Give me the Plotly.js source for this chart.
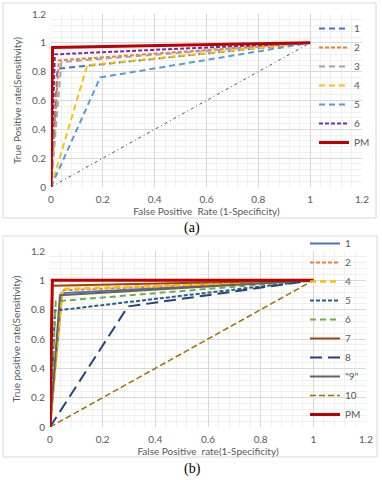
<!DOCTYPE html>
<html>
<head>
<meta charset="utf-8">
<script src="https://cdn.plot.ly/plotly-3.0.1.min.js"></script>
<style>
  html, body { margin: 0; padding: 0; background: #fff; }
  #chart { width: 382px; height: 480px; }
</style>
</head>
<body>
<div id="chart"></div>
<script>
(function(){
    // panel (a)
    const namesA = ['1','2','3','4','5','6','PM'];
    const fprA = [[0,0.025,1],[0,0.03,1],[0,0.04,1],[0,0.14,1],[0,0.19,1],[0,0.015,1],[0,0.006,1]];
    const tprA = [[0,0.82,1],[0,0.878,1],[0,0.867,1],[0,0.845,1],[0,0.76,1],[0,0.92,1],[0,0.968,1]];
    const chanceA = [0, 1];
    const colorsA = ['#4472C4','#ED7D31','#A5A5A5','#FFC000','#5B9BD5','#7030A0','#C00000'];
    const dashesA = ['6px,4px','4px,2px','6px,4px','6px,4px','6px,4px','4px,2px','solid'];
    const widthsA = [2,2,2,2,2,2,3];

    // panel (b)
    const namesB = ['1','2','4','5','6','7','8','"9"','10','PM'];
    const fprB = [[0,0.045,1],[0,0.045,1],[0,0.048,1],[0,0.019,1],[0,0.022,1],[0,0.008,1],[0,0.296,1],[0,0.038,1],[0,1],[0,0.009,1]];
    const tprB = [[0,0.913,1],[0,0.932,1],[0,0.94,1],[0,0.793,1],[0,0.857,1],[0,0.963,1],[0,0.822,1],[0,0.898,1],[0,1],[0,1,1]];
    const colorsB = ['#4472C4','#ED7D31','#FFC000','#255E91','#70AD47','#9E480E','#264478','#636363','#997300','#C00000'];
    const dashesB = ['solid','4px,2px','6px,4px','4px,2px','6px,4px','solid','12px,6px','solid','6px,3px','solid'];
    const widthsB = [2,2,2.5,2,2,2,2,2,1.5,3];

    const traces = [];
    traces.push({
        x: chanceA, y: chanceA, xaxis: 'x', yaxis: 'y', mode: 'lines',
        line: {color: '#44546A', width: 1, dash: '3px,3px,1px,3px'},
        showlegend: false, hoverinfo: 'skip'
    });
    namesA.forEach((n, i) => {
        traces.push({
            x: fprA[i], y: tprA[i], xaxis: 'x', yaxis: 'y', mode: 'lines', name: n,
            legend: 'legend', legendgroup: 'a' + i,
            line: {color: colorsA[i], width: widthsA[i], dash: dashesA[i]}
        });
    });
    namesB.forEach((n, i) => {
        traces.push({
            x: fprB[i], y: tprB[i], xaxis: 'x2', yaxis: 'y2', mode: 'lines', name: n,
            legend: 'legend2', legendgroup: 'b' + i,
            line: {color: colorsB[i], width: widthsB[i], dash: dashesB[i]}
        });
    });

    const W = 382, H = 480;
    const px = v => v / W, py = v => 1 - v / H;
    const font = {family: 'Lato, sans-serif', size: 10, color: '#595959'};
    const ax = (dom, anchor, isX) => ({
        domain: dom, anchor: anchor, range: [0, 1.2], dtick: 0.2,
        showgrid: true, gridcolor: '#D9D9D9', gridwidth: 1,
        minor: {dtick: 0.04, showgrid: true, gridcolor: '#F0F0F0', gridwidth: 1},
        zeroline: false, showline: false, ticks: '',
        ticklabelstandoff: isX ? 5 : 4,
        tickfont: font, fixedrange: true
    });

    const xaxis = ax([px(51), px(362)], 'y', true);
    xaxis.title = {text: 'False Positive  Rate (1-Specificity)', font: font, standoff: 1};
    const yaxis = ax([py(187), py(14)], 'x', false);
    yaxis.title = {text: 'True Positive rate(Sensitivity)', font: font, standoff: 8};
    const xaxis2 = ax([px(50), px(366)], 'y2', true);
    xaxis2.title = {text: 'False Positive  rate(1-Specificity)', font: font, standoff: 1};
    const yaxis2 = ax([py(427), py(251)], 'x2', false);
    yaxis2.title = {text: 'True positive rate(Sensitivity)', font: font, standoff: 8};

    const legendBase = {
        bgcolor: 'rgba(0,0,0,0)', borderwidth: 0, font: font,
        traceorder: 'grouped', tracegroupgap: 0, xanchor: 'left', yanchor: 'top', itemwidth: 30
    };

    const panelFont = {family: 'Liberation Serif, serif', size: 14, color: '#000'};
    const layout = {
        width: W, height: H,
        margin: {l: 0, r: 0, t: 0, b: 0},
        paper_bgcolor: 'white', plot_bgcolor: 'white',
        xaxis: xaxis, yaxis: yaxis, xaxis2: xaxis2, yaxis2: yaxis2,
        legend: Object.assign({}, legendBase, {x: px(314), y: py(14)}),
        legend2: Object.assign({}, legendBase, {x: px(305), y: py(229)}),
        shapes: [
            {type: 'rect', xref: 'paper', yref: 'paper', x0: px(3), x1: px(376), y0: py(218), y1: py(3), line: {color: '#D9D9D9', width: 1}},
            {type: 'rect', xref: 'paper', yref: 'paper', x0: px(3), x1: px(377), y0: py(457), y1: py(236), line: {color: '#D9D9D9', width: 1}}
        ],
        annotations: [
            {text: '(a)', xref: 'paper', yref: 'paper', x: px(192), y: py(228), xanchor: 'center', yanchor: 'middle', showarrow: false, font: panelFont},
            {text: '(b)', xref: 'paper', yref: 'paper', x: px(192), y: py(469), xanchor: 'center', yanchor: 'middle', showarrow: false, font: panelFont}
        ]
    };

    Plotly.newPlot('chart', traces, layout, {displayModeBar: false, staticPlot: true});
})();
</script>
</body>
</html>
